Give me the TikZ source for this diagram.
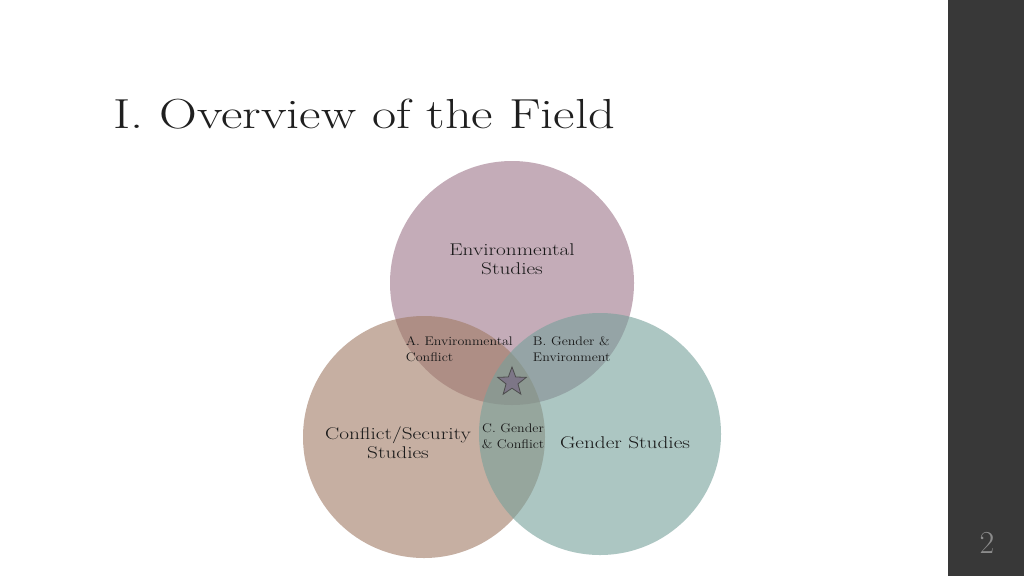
\documentclass[tikz,border=0pt]{standalone}
\usetikzlibrary{shapes.geometric}
\begin{document}
\begin{tikzpicture}[x=1pt,y=-1pt,
  circ/.style={fill opacity=0.6,draw=none},
  lbl/.style={align=center,font=\fontsize{17}{19}\selectfont,text=black!90,xscale=1.25},
  sm/.style={align=left,font=\fontsize{12.5}{15.5}\selectfont,text=black!90,xscale=1.12}]
\useasboundingbox (0,0) rectangle (1024,576);
\fill[white] (0,0) rectangle (1024,576);
\fill[black!78] (948,0) rectangle (1024,576);
\node[anchor=base west,font=\fontsize{42}{44}\selectfont,text=black!88,xscale=1.25,inner sep=0pt] (title) at (113,128) {I. Overview of the Field};
\node[font=\fontsize{32}{34}\selectfont,text=black!45] (num) at (987,543) {2};
\fill[circ,fill={rgb,255:red,158;green,118;blue,138}] (512,283) circle (122);
\fill[circ,fill={rgb,255:red,160;green,122;blue,100}] (424,437) circle (121);
\fill[circ,fill={rgb,255:red,118;green,160;blue,154}] (600,434) circle (121);
\node[lbl] (env) at (512,259) {Environmental\\Studies};
\node[lbl] (con) at (398,443) {Conflict/Security\\Studies};
\node[lbl] (gen) at (625,443) {Gender Studies};
\node[sm,anchor=west] (a) at (402,349) {A. Environmental\\Conflict};
\node[sm,anchor=west] (b) at (529,349) {B. Gender \&\\Environment};
\node[sm,align=center] (c) at (513,436) {C. Gender\\\& Conflict};
\node[star,star points=5,star point ratio=2.4,minimum size=30pt,inner sep=0pt,fill={rgb,255:red,125;green,118;blue,135},draw=black!70,line width=0.8pt] (s) at (512,382) {};
\end{tikzpicture}
\end{document}
